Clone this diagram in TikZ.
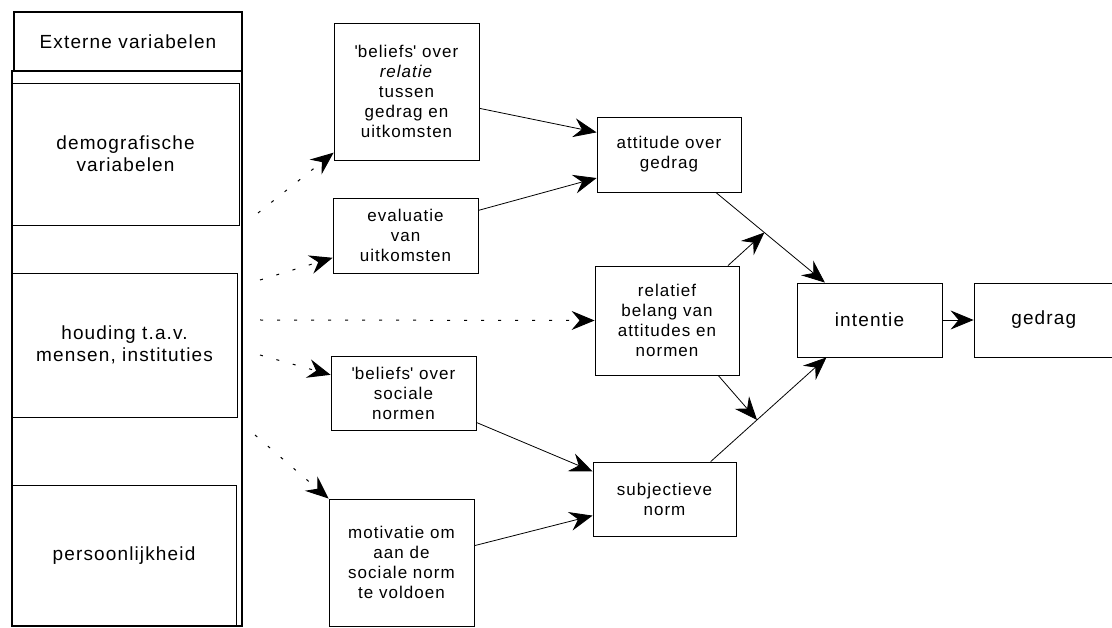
\documentclass[tikz,border=0pt]{standalone}
\usepackage{fontspec}
\setmainfont{Liberation Sans}[LetterSpace=6]
\usetikzlibrary{arrows.meta,calc}

\begin{document}
\begin{tikzpicture}[
  x=1pt, y=-1pt,
  >={Stealth[length=23pt,width=19pt,inset=8pt]},
  box/.style={draw, line width=0.8pt, inner sep=0pt, align=center, font=\fontsize{17}{20}\selectfont},
  side/.style={box, font=\fontsize{19}{22}\selectfont},
  arrow/.style={->, line width=0.8pt},
  dots/.style={->, line width=1pt, dash pattern=on 3pt off 14pt}
]
\useasboundingbox (0,0) rectangle (1112,628);

% left column
\node[draw, line width=1.6pt, minimum width=230pt, minimum height=555pt] (col) at (127,348.5) {};
\node[side, line width=2.4pt, minimum width=228pt, minimum height=59pt] (ext) at (128,41.5) {Externe variabelen};
\node[side, minimum width=227pt, minimum height=142pt] (demo) at (125.5,154) {demografische\\variabelen};
\node[side, minimum width=225pt, minimum height=144pt] (houd) at (124.5,345) {houding t.a.v.\\mensen, instituties};
\node[side, minimum width=224pt, minimum height=141pt] (pers) at (124,555.5) {persoonlijkheid};

% middle column
\node[box, minimum width=145pt, minimum height=137pt] (bel) at (406.5,91.5) {\textquotesingle beliefs\textquotesingle{} over\\\textit{relatie}\\tussen\\gedrag en\\uitkomsten};
\node[box, minimum width=145pt, minimum height=75pt] (eva) at (405.5,235.5) {evaluatie\\van\\uitkomsten};
\node[box, minimum width=145pt, minimum height=74pt] (soc) at (403.5,393) {\textquotesingle beliefs\textquotesingle{} over\\sociale\\normen};
\node[box, minimum width=145pt, minimum height=127pt] (mot) at (401.5,562.5) {motivatie om\\aan de\\sociale norm\\te voldoen};

\node[box, minimum width=144pt, minimum height=75pt] (att) at (669,154.5) {attitude over\\gedrag};
\node[box, minimum width=144pt, minimum height=109pt] (rel) at (667,320.5) {relatief\\belang van\\attitudes en\\normen};
\node[box, minimum width=143pt, minimum height=74pt] (subj) at (664.5,499) {subjectieve\\norm};

\node[side, minimum width=145pt, minimum height=74pt] (int) at (869.5,320) {intentie};
\node[side, minimum width=139.5pt, minimum height=74pt] (ged) at (1043.75,320) {gedrag};

% dotted influences
\coordinate (d1) at (258,213);
\coordinate (d2) at (260,280);
\coordinate (d3) at (260,320);
\coordinate (d4) at (260,355);
\coordinate (d5) at (255,435);
\draw[dots] (d1) -- (bel.-140);
\draw[dots] (d2) -- (eva.-163);
\draw[dots] (d3) -- (rel.west);
\draw[dots] (d4) -- (soc.166);
\draw[dots] (d5) -- (mot.north west);

\draw[arrow] (bel.-13) -- (att.163);
\draw[arrow] (eva.19) -- (att.-162);
\draw[arrow] (soc.-22) -- (subj.159);
\draw[arrow] (mot.13) -- (subj.-167);

\coordinate (j1) at ($(att.-39)!0.445!(int.140)$);
\coordinate (j2) at ($(subj.39)!0.40!(int.-139)$);
\draw[arrow] (att.-39) -- (int.140);
\draw[arrow] (subj.39) -- (int.-139);
\draw[arrow] (rel.42) -- (j1);
\draw[arrow] (rel.-47) -- (j2);
\draw[arrow] (int) -- (ged);

\end{tikzpicture}
\end{document}
